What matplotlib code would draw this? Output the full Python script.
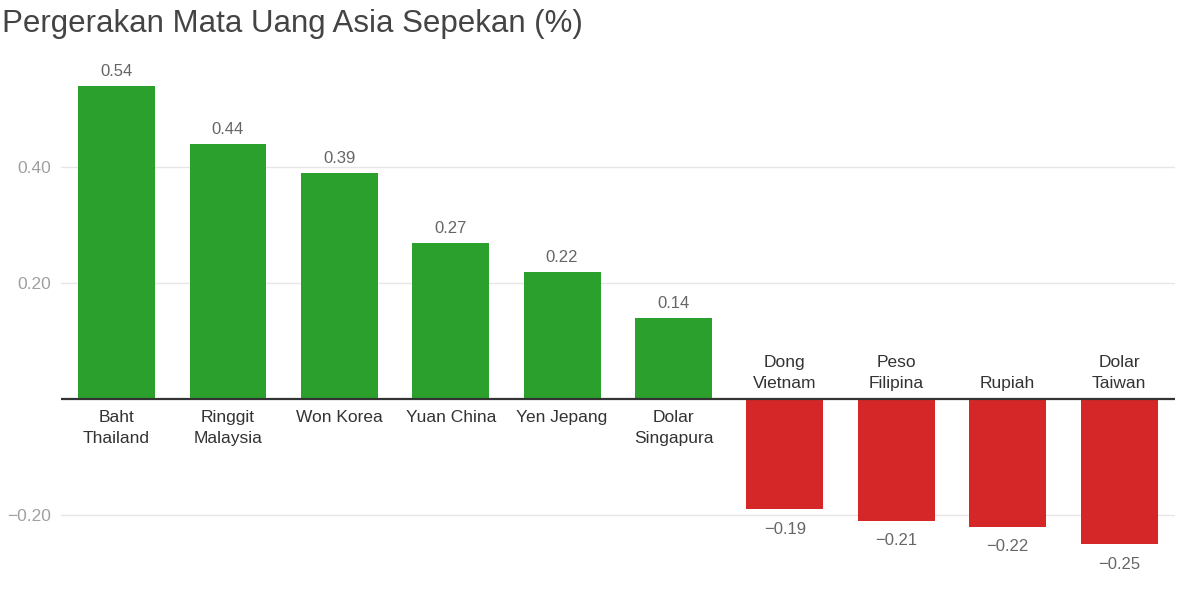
import numpy as np
import matplotlib
matplotlib.use("Agg")
import matplotlib.pyplot as plt

# --- Data ---
currencies = ["Baht\nThailand", "Ringgit\nMalaysia", "Won Korea", "Yuan China",
              "Yen Jepang", "Dolar\nSingapura", "Dong\nVietnam", "Peso\nFilipina",
              "Rupiah", "Dolar\nTaiwan"]
changes = [0.54, 0.44, 0.39, 0.27, 0.22, 0.14, -0.19, -0.21, -0.22, -0.25]
y_ticks = [-0.20, 0.20, 0.40]

GREEN = "#2ca02c"
RED = "#d62728"

plt.rcParams['font.family'] = ['Liberation Sans', 'DejaVu Sans']

fig = plt.figure(figsize=(12, 6.03), dpi=100)
ax = fig.add_axes([0.0507, 0.0209, 0.9283, 0.8846])

x = np.arange(len(changes))
colors = [GREEN if v >= 0 else RED for v in changes]
ax.bar(x, changes, width=0.69, color=colors, zorder=2)

ax.set_xlim(-0.5, len(changes) - 0.5)
ax.set_ylim(-0.33, 0.59)

# gridlines + zero line
for t in y_ticks:
    ax.axhline(t, color="#e6e6e6", lw=1, zorder=0)
ax.axhline(0, color="#333333", lw=1.6, zorder=3)

ax.set_yticks(y_ticks)
ax.set_yticklabels([f"{t:.2f}".replace("-", "\u2212") for t in y_ticks],
                   color="#a0a0a0", fontsize=12.5)
ax.tick_params(axis="y", length=0, pad=7)
ax.set_xticks([])
for s in ax.spines.values():
    s.set_visible(False)

# value labels and category labels
for xi, v, name in zip(x, changes, currencies):
    lbl = f"{v:.2f}".replace("-", "\u2212")
    if v >= 0:
        ax.annotate(lbl, (xi, v), xytext=(0, 5), textcoords="offset points",
                    ha="center", va="bottom", color="#666666", fontsize=12)
        ax.annotate(name, (xi, 0), xytext=(0, -8), textcoords="offset points",
                    ha="center", va="top", color="#333333", fontsize=12.5,
                    linespacing=1.45)
    else:
        ax.annotate(lbl, (xi, v), xytext=(0, -9), textcoords="offset points",
                    ha="center", va="top", color="#666666", fontsize=12)
        ax.annotate(name, (xi, 0), xytext=(0, 6), textcoords="offset points",
                    ha="center", va="bottom", color="#333333", fontsize=12.5,
                    linespacing=1.45)

fig.text(0.002, 0.96, "Pergerakan Mata Uang Asia Sepekan (%)", ha="left",
         va="center", fontsize=22.5, color="#444444")

fig.savefig("out.png", dpi=100)
